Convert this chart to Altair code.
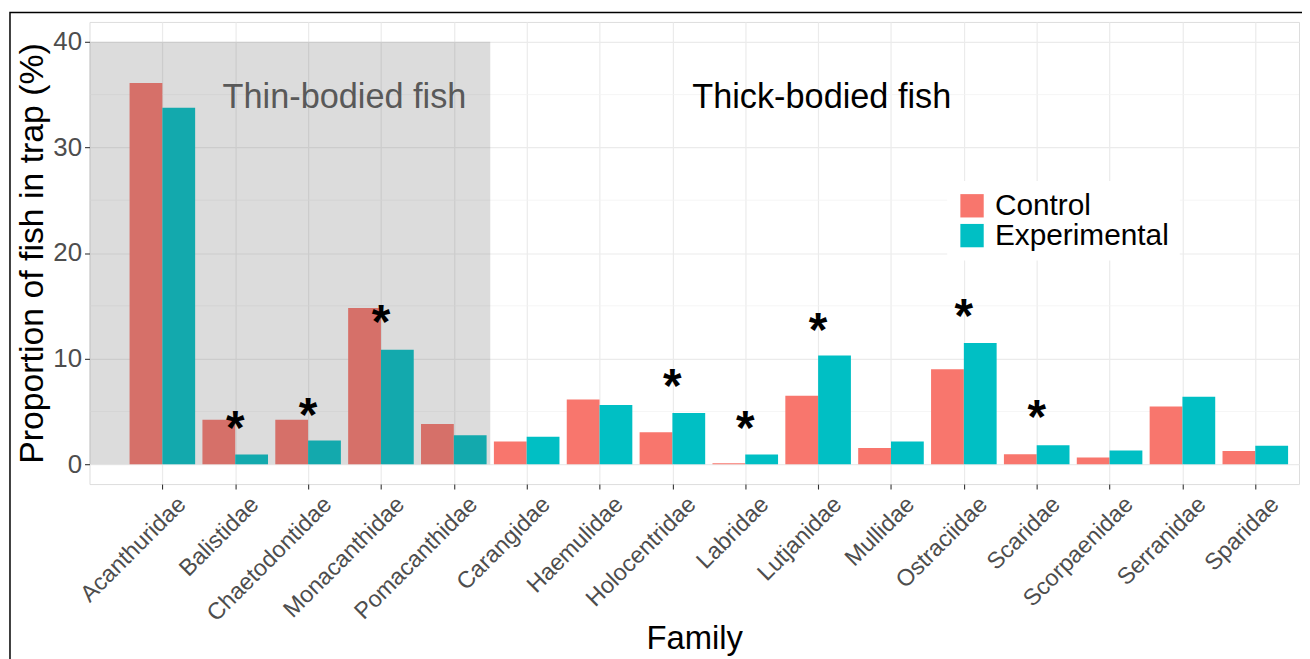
import json
import altair as alt
import pandas as pd

# ---------------- data ----------------
families = ["Acanthuridae", "Balistidae", "Chaetodontidae", "Monacanthidae",
            "Pomacanthidae", "Carangidae", "Haemulidae", "Holocentridae",
            "Labridae", "Lutjanidae", "Mullidae", "Ostraciidae", "Scaridae",
            "Scorpaenidae", "Serranidae", "Sparidae"]
control = [36.1, 4.2, 4.2, 14.8, 3.8, 2.14, 6.13, 3.02, 0.1, 6.48, 1.54,
           9.0, 0.94, 0.63, 5.47, 1.25]
experimental = [33.75, 0.91, 2.24, 10.85, 2.74, 2.6, 5.6, 4.84, 0.91, 10.3,
                2.14, 11.48, 1.8, 1.29, 6.39, 1.76]
groups = ["Control", "Experimental"]

star_families = ["Balistidae", "Chaetodontidae", "Monacanthidae",
                 "Holocentridae", "Labridae", "Lutjanidae", "Ostraciidae",
                 "Scaridae"]
star_y = [4.1, 5.3, 14.1, 8.1, 4.1, 13.4, 14.7, 5.1]

y_ticks = [0, 10, 20, 30, 40]
y_minor = [5, 15, 25, 35]

region_labels = ["Thin-bodied fish", "Thick-bodied fish"]
region_label_x = [3.5, 10.05]
region_label_y = [33.7, 33.7]
thin_x = [0, 5.5]
thin_y = [0, 40]

# ---------------- layout ----------------
W, H = 1217, 465
FONT = "Liberation Sans"

rows = []
for i, f in enumerate(families):
    rows.append({"family": f, "idx": i + 1, "group": "Control", "value": control[i]})
    rows.append({"family": f, "idx": i + 1, "group": "Experimental", "value": experimental[i]})
bars_df = pd.DataFrame(rows)

stars_df = pd.DataFrame({"family": star_families,
                         "idx": [families.index(f) + 1 for f in star_families],
                         "y": star_y})
labels_df = pd.DataFrame({"label": region_labels, "x": region_label_x, "y": region_label_y})
region_df = pd.DataFrame({"x": [thin_x[0]], "x2": [thin_x[1]], "y": [thin_y[0]], "y2": [thin_y[1]]})
minor_df = pd.DataFrame({"v": y_minor})

xscale = alt.Scale(domain=[0, 16.6], nice=False, zero=False)
yscale = alt.Scale(domain=[-1.88, 41.88], nice=False, zero=False)

xaxis = alt.Axis(values=list(range(1, 17)),
                 labelExpr=f"{json.dumps(families)}[datum.value - 1]",
                 labelAngle=-45, labelAlign="right", labelBaseline="top",
                 labelFontSize=23.5, labelColor="#4d4d4d", labelOverlap=False,
                 labelFlush=False, labelPadding=3, labelOffset=11, labelFont=FONT,
                 labelLimit=0,
                 tickColor="#333333", tickSize=5, tickWidth=1.1, domain=False,
                 grid=True, gridColor="#ebebeb", gridWidth=1.2,
                 title="Family", titleFontSize=33, titleFontWeight="normal",
                 titleColor="black", titleFont=FONT, titleBaseline="alphabetic",
                 titleY=165)
yaxis = alt.Axis(values=y_ticks, labelFontSize=26, labelColor="#4d4d4d",
                 labelPadding=3, labelFont=FONT, tickColor="#333333", tickSize=5,
                 tickWidth=1.1, domain=False, grid=True, gridColor="#ebebeb",
                 gridWidth=1.2, title="Proportion of fish in trap (%)",
                 titleFontSize=34, titleFontWeight="normal", titleColor="black",
                 titleFont=FONT, titleBaseline="alphabetic", titleX=-47)

minor = alt.Chart(minor_df).mark_rule(color="#f2f2f2", strokeWidth=0.8).encode(
    y=alt.Y("v:Q", scale=yscale, axis=yaxis),
    x=alt.value(0), x2=alt.value(W))

bars = alt.Chart(bars_df).transform_calculate(
    x0="datum.idx - 0.45 + (datum.group == 'Experimental' ? 0.45 : 0)",
    x1="datum.idx + (datum.group == 'Experimental' ? 0.45 : 0)",
).mark_rect().encode(
    x=alt.X("x0:Q", scale=xscale, axis=xaxis),
    x2="x1:Q",
    y=alt.Y("value:Q", scale=yscale, axis=yaxis),
    y2=alt.datum(0),
    color=alt.Color("group:N",
                    scale=alt.Scale(domain=groups, range=["#F8766D", "#00BFC4"]),
                    legend=alt.Legend(title=None, orient="none", legendX=863,
                                      legendY=160, fillColor="white", padding=10,
                                      labelFontSize=30, labelColor="black",
                                      labelFont=FONT, labelLimit=0,
                                      symbolType="square",
                                      symbolSize=552, symbolStrokeWidth=0,
                                      rowPadding=-4.5, labelOffset=8)),
)

overlay = alt.Chart(region_df).mark_rect(color="#5a5a5a", opacity=0.21).encode(
    x=alt.X("x:Q", scale=xscale, axis=xaxis), x2="x2:Q",
    y=alt.Y("y:Q", scale=yscale, axis=yaxis), y2="y2:Q")

region_text = alt.Chart(labels_df).mark_text(
    fontSize=34.5, font=FONT, baseline="alphabetic", align="center").encode(
    x=alt.X("x:Q", scale=xscale, axis=xaxis),
    y=alt.Y("y:Q", scale=yscale, axis=yaxis),
    text="label:N",
    color=alt.condition("datum.label == 'Thin-bodied fish'",
                        alt.value("#595959"), alt.value("black")))

stars = alt.Chart(stars_df).mark_text(
    text="*", fontSize=48, font=FONT, fontWeight="bold", baseline="middle",
    align="center", dy=9, color="black").encode(
    x=alt.X("idx:Q", scale=xscale, axis=xaxis),
    y=alt.Y("y:Q", scale=yscale, axis=yaxis))

frame = alt.Chart(pd.DataFrame({"a": [0]})).mark_rect(
    filled=False, color="black", strokeWidth=1.5).encode(
    x=alt.value(-80), x2=alt.value(W + 60),
    y=alt.value(-9.5), y2=alt.value(H + 300))

chart = alt.layer(minor, bars, overlay, region_text, stars, frame).properties(
    width=W, height=H,
    padding={"left": 82, "top": 12, "right": 3, "bottom": 174},
    autosize=alt.AutoSizeParams(type="none"),
    background="white",
).configure_view(stroke="#555555", strokeWidth=1).configure(font=FONT)

chart.save("out.html", embed_options={"renderer": "svg", "actions": False})
